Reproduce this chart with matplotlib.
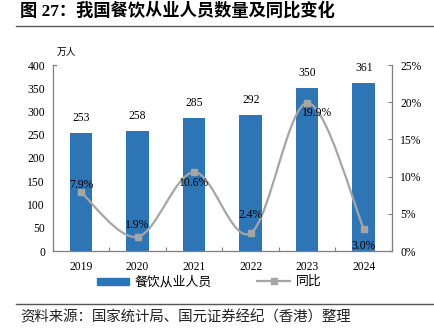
import matplotlib
matplotlib.use("Agg")
import matplotlib.pyplot as plt
from matplotlib.path import Path
from matplotlib.patches import PathPatch, Rectangle
from matplotlib.lines import Line2D
import numpy as np

plt.rcParams['font.family'] = ['Liberation Serif', 'Noto Sans CJK SC', 'DejaVu Sans']

years = ['2019', '2020', '2021', '2022', '2023', '2024']
workers = [253, 258, 285, 292, 350, 361]
yoy = [7.9, 1.9, 10.6, 2.4, 19.9, 3.0]
yoy_labels = ['7.9%', '1.9%', '10.6%', '2.4%', '19.9%', '3.0%']
left_ticks = [0, 50, 100, 150, 200, 250, 300, 350, 400]
right_ticks = [0, 5, 10, 15, 20, 25]

BLUE = '#2E75B6'
GRAY = '#A5A5A5'
AX = '#7F7F7F'

W, H = 434, 334
fig = plt.figure(figsize=(W / 100, H / 100), dpi=100)

def fx(px):
    return px / W

def fy(py):
    return 1 - py / H

NUMF = ['Liberation Serif']
FS = 8.4

ax = fig.add_axes([fx(52.7), fy(251), fx(392 - 52.7), (251 - 65) / H])
x = np.arange(len(years))
ax.bar(x, workers, width=0.40, color=BLUE, zorder=2)
ax.set_xlim(-0.5, len(years) - 0.5)
ax.set_ylim(0, 400)
ax.set_yticks(left_ticks)
ax.set_yticklabels([str(t) for t in left_ticks], fontsize=FS, family=NUMF)
ax.tick_params(axis='y', length=0, pad=5.5)
ax.set_xticks(x)
ax.set_xticklabels(years, fontsize=FS, family=NUMF)
ax.set_xticks(np.arange(len(years) + 1) - 0.5, minor=True)
ax.tick_params(axis='x', which='major', length=0, pad=7)
ax.tick_params(axis='x', which='minor', length=3, direction='in', color=AX, width=0.8)
for s in ['top', 'right']:
    ax.spines[s].set_visible(False)
for s in ['left', 'bottom']:
    ax.spines[s].set_color(AX)
    ax.spines[s].set_linewidth(0.9)

for xi, v in zip(x, workers):
    ax.annotate(str(v), (xi, v), xytext=(0, 15), textcoords='offset pixels',
                ha='center', va='center', fontsize=FS, family=NUMF)

# top nub on left axis
ax.plot([-0.5, -0.5 + 0.06], [400, 400], color=AX, lw=0.9, clip_on=False)

ax2 = ax.twinx()
ax2.set_ylim(0, 25)
ax2.set_yticks(right_ticks)
ax2.set_yticklabels([f'{t}%' for t in right_ticks], fontsize=FS, family=NUMF)
ax2.tick_params(axis='y', length=3, direction='in', color=AX, width=0.8, pad=6)
for s in ['top', 'left', 'bottom']:
    ax2.spines[s].set_visible(False)
ax2.spines['right'].set_color(AX)
ax2.spines['right'].set_linewidth(0.9)

# smooth curve (Catmull-Rom style Bezier through the data points)
pts = np.column_stack([x, yoy]).astype(float)
verts = [tuple(pts[0])]
codes = [Path.MOVETO]
n = len(pts)
for i in range(n - 1):
    p0 = pts[i - 1] if i > 0 else pts[i]
    p1 = pts[i]
    p2 = pts[i + 1]
    p3 = pts[i + 2] if i + 2 < n else pts[i + 1]
    c1 = p1 + (p2 - p0) / 6.0
    c2 = p2 - (p3 - p1) / 6.0
    verts += [tuple(c1), tuple(c2), tuple(p2)]
    codes += [Path.CURVE4] * 3
ax2.add_patch(PathPatch(Path(verts, codes), facecolor='none', edgecolor=GRAY, lw=1.6, zorder=3))
ax2.plot(x, yoy, linestyle='none', marker='s', markersize=4.5, color=GRAY, zorder=4)

offs = [(0, 7), (0, 12), (0, -11), (0, 18), (10, -10), (0, -17)]
for xi, v, lab, o in zip(x, yoy, yoy_labels, offs):
    ax2.annotate(lab, (xi, v), xytext=o, textcoords='offset pixels',
                 ha='center', va='center', fontsize=FS, family=NUMF, zorder=5)

# unit label
fig.text(fx(66.7), fy(51.7), '万人', fontsize=7, family=['Noto Sans CJK SC'], ha='center', va='center')

# title
fig.text(fx(20), fy(11), '图 27：我国餐饮从业人员数量及同比变化', fontsize=12.4, fontweight='bold',
         family=['Liberation Serif', 'Noto Sans CJK SC'], ha='left', va='center')
fig.add_artist(Line2D([fx(16), fx(434)], [fy(26), fy(26)], color='#555555', lw=1.0))

# legend
fig.add_artist(Rectangle((fx(97), fy(285)), fx(129 - 97), (285 - 278) / H, color=BLUE, transform=fig.transFigure))
fig.text(fx(134.5), fy(281.5), '餐饮从业人员', fontsize=9.3, family=['Noto Sans CJK SC'], ha='left', va='center')
fig.add_artist(Line2D([fx(257), fx(290)], [fy(281), fy(281)], color=GRAY, lw=1.6))
fig.add_artist(Line2D([fx(273.5)], [fy(281)], marker='s', markersize=4.5, color=GRAY, linestyle='none'))
fig.text(fx(295.5), fy(281.5), '同比', fontsize=9.3, family=['Noto Sans CJK SC'], ha='left', va='center')

# source
fig.add_artist(Line2D([fx(16), fx(434)], [fy(304), fy(304)], color='#555555', lw=1.0))
fig.text(fx(20), fy(317.5), '资料来源：国家统计局、国元证券经纪（香港）整理', fontsize=10.4,
         family=['Noto Sans CJK SC'], ha='left', va='center', color='#222222')

fig.savefig('out.png', dpi=100)
